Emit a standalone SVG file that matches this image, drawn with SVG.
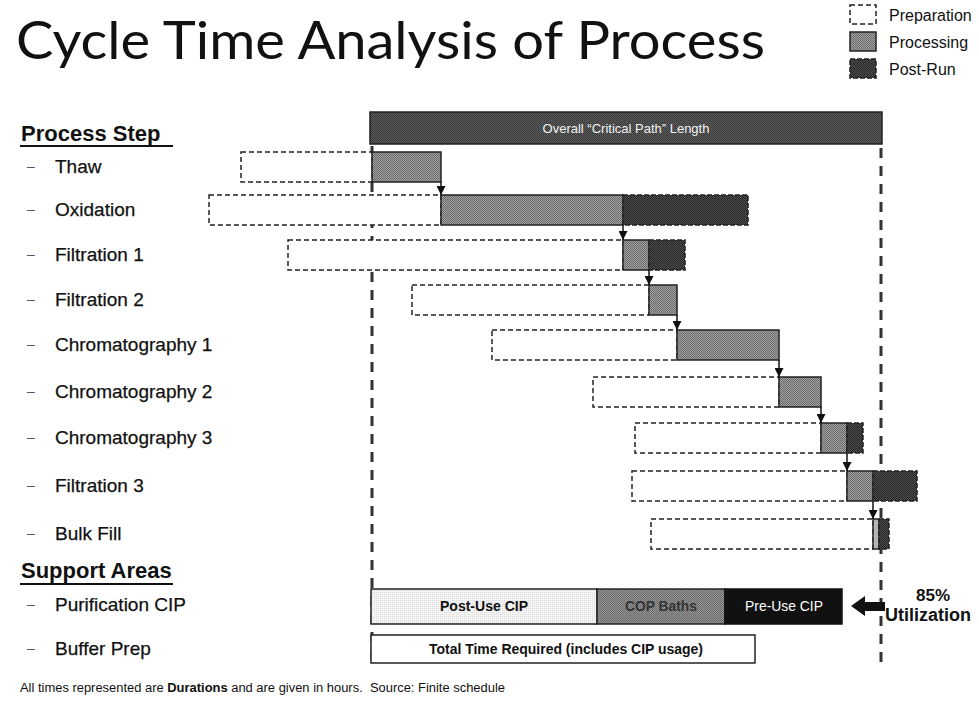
<svg xmlns="http://www.w3.org/2000/svg" width="979" height="702" viewBox="0 0 979 702">
  <defs>
    <!-- halftone-style fills -->
    <pattern id="fProc" width="2" height="2" patternUnits="userSpaceOnUse">
      <rect width="2" height="2" fill="#a0a0a0"/>
      <rect width="1" height="1" fill="#6c6c6c"/>
      <rect x="1" y="1" width="1" height="1" fill="#6c6c6c"/>
    </pattern>
    <pattern id="fPost" width="2" height="2" patternUnits="userSpaceOnUse">
      <rect width="2" height="2" fill="#4e4e4e"/>
      <rect width="1" height="1" fill="#262626"/>
      <rect x="1" y="1" width="1" height="1" fill="#262626"/>
    </pattern>
    <pattern id="fCrit" width="2" height="2" patternUnits="userSpaceOnUse">
      <rect width="2" height="2" fill="#5e5e5e"/>
      <rect width="1" height="1" fill="#383838"/>
      <rect x="1" y="1" width="1" height="1" fill="#383838"/>
    </pattern>
    <pattern id="fLight" width="2" height="2" patternUnits="userSpaceOnUse">
      <rect width="2" height="2" fill="#f4f4f4"/>
      <rect width="1" height="1" fill="#dcdcdc"/>
    </pattern>
    <pattern id="fCop" width="2" height="2" patternUnits="userSpaceOnUse">
      <rect width="2" height="2" fill="#969696"/>
      <rect width="1" height="1" fill="#6a6a6a"/>
      <rect x="1" y="1" width="1" height="1" fill="#6a6a6a"/>
    </pattern>
    <marker id="ah" markerWidth="9" markerHeight="9" refX="9" refY="4.5" orient="auto" markerUnits="userSpaceOnUse">
      <path d="M0,0 L9,4.5 L0,9 Z" fill="#111"/>
    </marker>
    <style>
      text { font-family: "Liberation Sans", Arial, sans-serif; fill: #111; }
      .title { font-family: Lato, "Open Sans", sans-serif; font-size: 52px; }
      .head { font-size: 22px; font-weight: bold; }
      .lbl { font-size: 19px; stroke: #111; stroke-width: 0.25; }
      .dash { font-size: 14px; fill: #555; }
      .leg { font-size: 16px; }
      .prep { fill: #fff; stroke: #222; stroke-width: 1.5; stroke-dasharray: 5 3; }
      .proc { fill: url(#fProc); stroke: #222; stroke-width: 1.5; }
      .post { fill: url(#fPost); stroke: #222; stroke-width: 1.5; stroke-dasharray: 5 2; }
      .guide { stroke: #333; stroke-width: 3; stroke-dasharray: 10 8; fill: none; }
      .link { stroke: #111; stroke-width: 1.5; fill: none; marker-end: url(#ah); }
      .bar { font-size: 14px; text-anchor: middle; }
    </style>
  </defs>

  <rect width="979" height="702" fill="#fff"/>

  <g id="title">
    <text class="title" x="16" y="59" textLength="749" lengthAdjust="spacingAndGlyphs">Cycle Time Analysis of Process</text>
  </g>

  <g id="legend">
    <rect class="prep" x="850" y="5" width="26" height="19"/>
    <text class="leg" x="889" y="21">Preparation</text>
    <rect class="proc" x="850" y="32" width="26" height="19"/>
    <text class="leg" x="889" y="48">Processing</text>
    <rect class="post" x="850" y="59" width="26" height="19"/>
    <text class="leg" x="889" y="75">Post-Run</text>
  </g>

  <!-- schedule guides -->
  <g id="guides">
    <line class="guide" x1="372" y1="146" x2="372" y2="666"/>
    <line class="guide" x1="881" y1="148" x2="881" y2="666"/>
  </g>

  <g id="critical-path">
    <rect x="370" y="112" width="512" height="32" fill="url(#fCrit)" stroke="#222" stroke-width="1.5"/>
    <text x="626" y="133" font-size="13" text-anchor="middle" style="fill:#f2f2f2">Overall “Critical Path” Length</text>
  </g>

  <g id="heading-process">
    <text class="head" x="21" y="141">Process Step</text>
    <line x1="20" y1="146" x2="173" y2="146" stroke="#111" stroke-width="2"/>
  </g>

  <g id="thaw">
    <text class="dash" x="27" y="171">–</text>
    <text class="lbl" x="55" y="173">Thaw</text>
    <rect class="prep" x="241" y="152" width="131" height="30"/>
    <rect class="proc" x="372" y="152" width="69" height="30"/>
  </g>

  <g id="oxidation">
    <text class="dash" x="27" y="214">–</text>
    <text class="lbl" x="55" y="216">Oxidation</text>
    <rect class="prep" x="209" y="195" width="232" height="30"/>
    <rect class="proc" x="441" y="195" width="182" height="30"/>
    <rect class="post" x="623" y="195" width="125" height="30"/>
  </g>

  <g id="filtration-1">
    <text class="dash" x="27" y="259">–</text>
    <text class="lbl" x="55" y="261">Filtration 1</text>
    <rect class="prep" x="288" y="240" width="335" height="30"/>
    <rect class="proc" x="623" y="240" width="26" height="30"/>
    <rect class="post" x="649" y="240" width="36" height="30"/>
  </g>

  <g id="filtration-2">
    <text class="dash" x="27" y="304">–</text>
    <text class="lbl" x="55" y="306">Filtration 2</text>
    <rect class="prep" x="412" y="285" width="237" height="30"/>
    <rect class="proc" x="649" y="285" width="28" height="30"/>
  </g>

  <g id="chromatography-1">
    <text class="dash" x="27" y="349">–</text>
    <text class="lbl" x="55" y="351">Chromatography 1</text>
    <rect class="prep" x="492" y="330" width="185" height="30"/>
    <rect class="proc" x="677" y="330" width="102" height="30"/>
  </g>

  <g id="chromatography-2">
    <text class="dash" x="27" y="396">–</text>
    <text class="lbl" x="55" y="398">Chromatography 2</text>
    <rect class="prep" x="593" y="377" width="186" height="30"/>
    <rect class="proc" x="779" y="377" width="42" height="30"/>
  </g>

  <g id="chromatography-3">
    <text class="dash" x="27" y="442">–</text>
    <text class="lbl" x="55" y="444">Chromatography 3</text>
    <rect class="prep" x="635" y="423" width="186" height="30"/>
    <rect class="proc" x="821" y="423" width="26" height="30"/>
    <rect class="post" x="847" y="423" width="16" height="30"/>
  </g>

  <g id="filtration-3">
    <text class="dash" x="27" y="490">–</text>
    <text class="lbl" x="55" y="492">Filtration 3</text>
    <rect class="prep" x="632" y="471" width="215" height="30"/>
    <rect class="proc" x="847" y="471" width="26" height="30"/>
    <rect class="post" x="873" y="471" width="44" height="30"/>
  </g>

  <g id="bulk-fill">
    <text class="dash" x="27" y="538">–</text>
    <text class="lbl" x="55" y="540">Bulk Fill</text>
    <rect class="prep" x="651" y="519" width="222" height="30"/>
    <rect class="proc" x="873" y="519" width="6" height="30" style="fill:#b4b4b4"/>
    <rect class="post" x="879" y="519" width="10" height="30"/>
  </g>

  <g id="heading-support">
    <text class="head" x="21" y="578">Support Areas</text>
    <line x1="20" y1="584" x2="173" y2="584" stroke="#111" stroke-width="2"/>
  </g>

  <g id="purification-cip">
    <text class="dash" x="27" y="609">–</text>
    <text class="lbl" x="55" y="611">Purification CIP</text>
    <rect x="371" y="589" width="226" height="35" fill="url(#fLight)" stroke="#222" stroke-width="1.5"/>
    <rect x="597" y="589" width="128" height="35" fill="url(#fCop)" stroke="#222" stroke-width="1.5"/>
    <rect x="725" y="589" width="117" height="35" fill="#111" stroke="#111" stroke-width="1.5"/>
    <text class="bar" x="484" y="611" font-weight="bold" textLength="88" lengthAdjust="spacingAndGlyphs">Post-Use CIP</text>
    <text class="bar" x="661" y="611" font-weight="bold" style="fill:#333" textLength="72" lengthAdjust="spacingAndGlyphs">COP Baths</text>
    <text class="bar" x="784" y="611" style="fill:#fff" textLength="78" lengthAdjust="spacingAndGlyphs">Pre-Use CIP</text>
  </g>

  <g id="buffer-prep">
    <text class="dash" x="27" y="653">–</text>
    <text class="lbl" x="55" y="655">Buffer Prep</text>
    <rect x="371" y="635" width="384" height="28" fill="#fff" stroke="#222" stroke-width="1.5"/>
    <text class="bar" x="566" y="654" font-weight="bold" textLength="274" lengthAdjust="spacingAndGlyphs">Total Time Required (includes CIP usage)</text>
  </g>

  <g id="utilization">
    <polygon points="851,606 865,596 865,602 885,602 885,611 865,611 865,616" fill="#111"/>
    <text x="933" y="601" font-size="17" font-weight="bold" text-anchor="middle">85%</text>
    <text x="928" y="621" font-size="18" font-weight="bold" text-anchor="middle">Utilization</text>
  </g>

  <g id="connectors">
    <line class="link" x1="441" y1="182" x2="441" y2="195"/>
    <line class="link" x1="623" y1="225" x2="623" y2="240"/>
    <line class="link" x1="649" y1="270" x2="649" y2="285"/>
    <line class="link" x1="677" y1="315" x2="677" y2="330"/>
    <line class="link" x1="779" y1="360" x2="779" y2="377"/>
    <line class="link" x1="821" y1="407" x2="821" y2="423"/>
    <line class="link" x1="847" y1="453" x2="847" y2="471"/>
    <line class="link" x1="873" y1="501" x2="873" y2="519"/>
  </g>

  <g id="footnote">
    <text x="20" y="692" font-size="12.5" xml:space="preserve" textLength="485" lengthAdjust="spacingAndGlyphs">All times represented are <tspan font-weight="bold">Durations</tspan> and are given in hours.  Source: Finite schedule</text>
  </g>
</svg>
